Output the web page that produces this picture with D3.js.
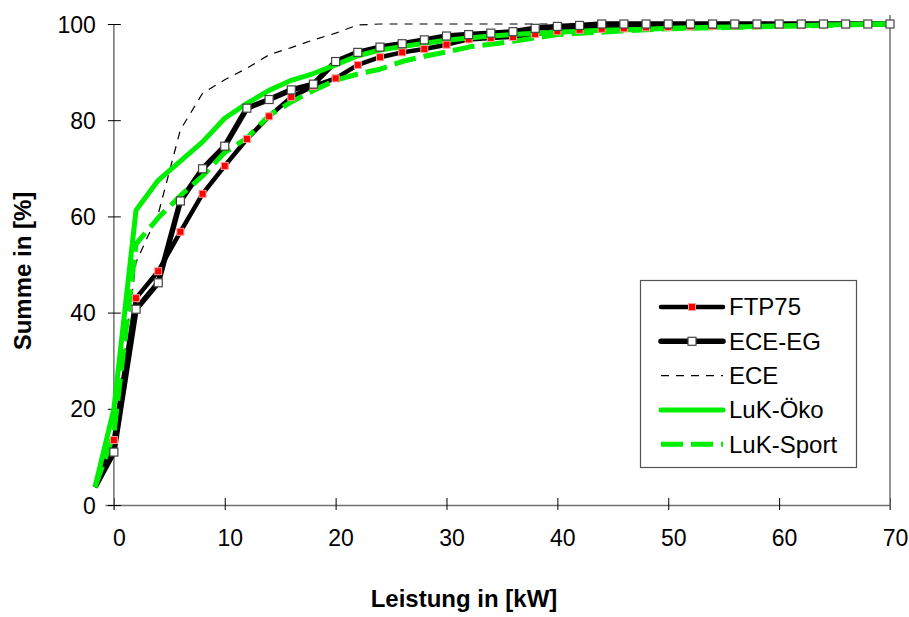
<!DOCTYPE html>
<html>
<head>
<meta charset="utf-8">
<style>
    body { margin: 0; background: #fff; }
    text { font-family: "Liberation Sans", Arial, sans-serif; fill: #000; }
    .tick text { font-size: 23px; }
    .legend text { font-size: 24px; }
    .title { font-size: 24px; font-weight: bold; }
</style>
<script src="https://d3js.org/d3.v7.min.js"></script>
</head>
<body>
<svg width="909" height="617"></svg>
<script>
// Leistung in kW (first point lies left of the y axis)
var leistung = [-1.7, 0, 2, 4, 6, 8, 10, 12, 14, 16, 18, 20, 22, 24, 26, 28, 30, 32, 34,
    36, 38, 40, 42, 44, 46, 48, 50, 52, 54, 56, 58, 60, 62, 64, 66, 68, 70];

var ftp75 = [3.7, 13.5, 43.0, 48.6, 56.8, 64.7, 70.5, 76.1, 80.8, 84.8, 87.1, 88.7, 91.5, 93.1,
    94.1, 94.8, 95.7, 96.8, 97.1, 97.3, 97.9, 98.5, 98.8, 99.0, 99.1, 99.3, 99.4, 99.5, 99.6,
    99.7, 99.7, 99.8, 99.8, 99.9, 99.9, 100, 100];
var eceEg = [3.7, 11.0, 40.7, 46.2, 63.2, 69.9, 74.6, 82.5, 84.3, 86.3, 87.5, 92.2, 94.1, 95.2,
    95.9, 96.7, 97.5, 97.8, 98.1, 98.4, 99.1, 99.5, 99.7, 100, 100, 100, 100, 100, 100, 100,
    100, 100, 100, 100, 100, 100, 100];
var ece = [3.7, 14, 50.5, 60.5, 78, 85.6, 88.4, 90.8, 93.6, 95.1, 96.7, 98.1, 99.8, 100, 100,
    100, 100, 100, 100, 100, 100, 100, 100, 100, 100, 100, 100, 100, 100, 100, 100, 100, 100,
    100, 100, 100, 100];
var lukOeko = [3.7, 20, 61.3, 67.5, 71.5, 75.5, 80.4, 83.5, 86.2, 88.3, 89.7, 91.5, 93.4, 94.6,
    95.3, 96.0, 96.6, 97.1, 97.5, 97.8, 98.1, 98.3, 98.5, 98.7, 98.8, 98.9, 99.1, 99.2, 99.3,
    99.4, 99.5, 99.6, 99.7, 99.8, 99.9, 100, 100];
var lukSport = [3.7, 14.8, 54.3, 59.7, 64.3, 68.4, 73.3, 76.3, 81, 83.8, 86.2, 88.3, 89.6, 90.6,
    92.2, 93.3, 94.2, 95.2, 95.8, 96.4, 97.1, 97.8, 98.1, 98.3, 98.6, 98.8, 99.0, 99.1, 99.2,
    99.3, 99.4, 99.5, 99.6, 99.7, 99.8, 99.9, 100];

var seriesNames = ["FTP75", "ECE-EG", "ECE", "LuK-Öko", "LuK-Sport"];
var xTicks = [0, 10, 20, 30, 40, 50, 60, 70];
var yTicks = [0, 20, 40, 60, 80, 100];

var svg = d3.select("svg");

var x = d3.scaleLinear().domain([-0.8, 70]).range([105, 890]);
var y = d3.scaleLinear().domain([0, 100]).range([505, 24]);

// styles per series
var styles = [
    { color: "#000", width: 4.5, dash: null, marker: "red" },
    { color: "#000", width: 5.5, dash: null, marker: "white" },
    { color: "#000", width: 1.2, dash: "8,7", marker: null },
    { color: "#00ee00", width: 5, dash: null, marker: null },
    { color: "#00ee00", width: 5, dash: "22,8", marker: null }
];
var values = [ftp75, eceEg, ece, lukOeko, lukSport];

// axes
var xAxis = svg.append("g")
    .attr("class", "axis")
    .attr("transform", "translate(0," + y(0) + ")")
    .call(d3.axisBottom(x).tickValues(xTicks).tickSizeOuter(0).tickPadding(0));
xAxis.select(".domain").attr("stroke", "#707070").attr("stroke-width", 1.5);
xAxis.selectAll(".tick line").attr("y1", -7).attr("y2", 5).attr("stroke", "#000");
xAxis.selectAll(".tick text").attr("y", 25).attr("dx", 5).attr("dy", "0.71em")
    .style("font-family", "'Liberation Sans', Arial, sans-serif");

var yAxis = svg.append("g")
    .attr("class", "axis")
    .attr("transform", "translate(" + x(0) + ",0)")
    .call(d3.axisLeft(y).tickValues(yTicks).tickSizeOuter(0).tickPadding(0));
yAxis.select(".domain").attr("stroke", "#707070").attr("stroke-width", 1.5)
    .attr("d", "M0," + y(100) + "V" + (y(0) + 5));
yAxis.selectAll(".tick line").attr("x1", -6).attr("x2", 7).attr("stroke", "#000");
yAxis.selectAll(".tick text").attr("x", -18).attr("dy", "0.35em")
    .style("font-family", "'Liberation Sans', Arial, sans-serif");

// right border of the plot area
svg.append("line")
    .attr("x1", x(70)).attr("x2", x(70))
    .attr("y1", y(100) - 9).attr("y2", y(0) + 5)
    .attr("stroke", "#707070").attr("stroke-width", 1.5);

// lines
var line = d3.line()
    .x(function (d, i) { return x(leistung[i]); })
    .y(function (d) { return y(d); });

values.forEach(function (vals, k) {
    var s = styles[k];
    svg.append("path")
        .attr("d", line(vals))
        .attr("fill", "none")
        .attr("stroke", s.color)
        .attr("stroke-width", s.width)
        .attr("stroke-linejoin", "round")
        .attr("stroke-dasharray", s.dash);
});

function drawMarker(g, cx, cy, kind) {
    if (kind === "red") {
        g.append("rect").attr("x", cx - 3.5).attr("y", cy - 3.5)
            .attr("width", 7).attr("height", 7)
            .attr("fill", "#ff0000").attr("stroke", "#ff9c9c").attr("stroke-width", 1);
    } else {
        g.append("rect").attr("x", cx - 4).attr("y", cy - 4)
            .attr("width", 8).attr("height", 8)
            .attr("fill", "#fff").attr("stroke", "#444").attr("stroke-width", 1.2);
    }
}

// markers on top of all lines (only from 0 kW on)
values.forEach(function (vals, k) {
    var s = styles[k];
    if (!s.marker) return;
    var g = svg.append("g");
    vals.forEach(function (v, i) {
        if (leistung[i] < 0) return;
        drawMarker(g, x(leistung[i]), y(v), s.marker);
    });
});

// legend
var legend = svg.append("g").attr("class", "legend");
legend.append("rect")
    .attr("x", 640.5).attr("y", 280.5).attr("width", 216).attr("height", 187)
    .attr("fill", "#fff").attr("stroke", "#555").attr("stroke-width", 1.2);

seriesNames.forEach(function (name, k) {
    var s = styles[k];
    var ly = 307 + k * 34.3;
    legend.append("line")
        .attr("x1", 661).attr("x2", 723).attr("y1", ly).attr("y2", ly)
        .attr("stroke", s.color).attr("stroke-width", s.width)
        .attr("stroke-linecap", s.dash ? "butt" : "round")
        .attr("stroke-dasharray", s.dash);
    if (s.marker) drawMarker(legend, 692, ly, s.marker);
    legend.append("text")
        .attr("x", 729).attr("y", ly).attr("dy", "0.35em")
        .text(name);
});

// axis titles
svg.append("text")
    .attr("class", "title")
    .attr("x", 464).attr("y", 607)
    .attr("text-anchor", "middle")
    .text("Leistung in [kW]");

svg.append("text")
    .attr("class", "title")
    .attr("transform", "translate(31,271) rotate(-90)")
    .attr("text-anchor", "middle")
    .text("Summe in [%]");
</script>
</body>
</html>
